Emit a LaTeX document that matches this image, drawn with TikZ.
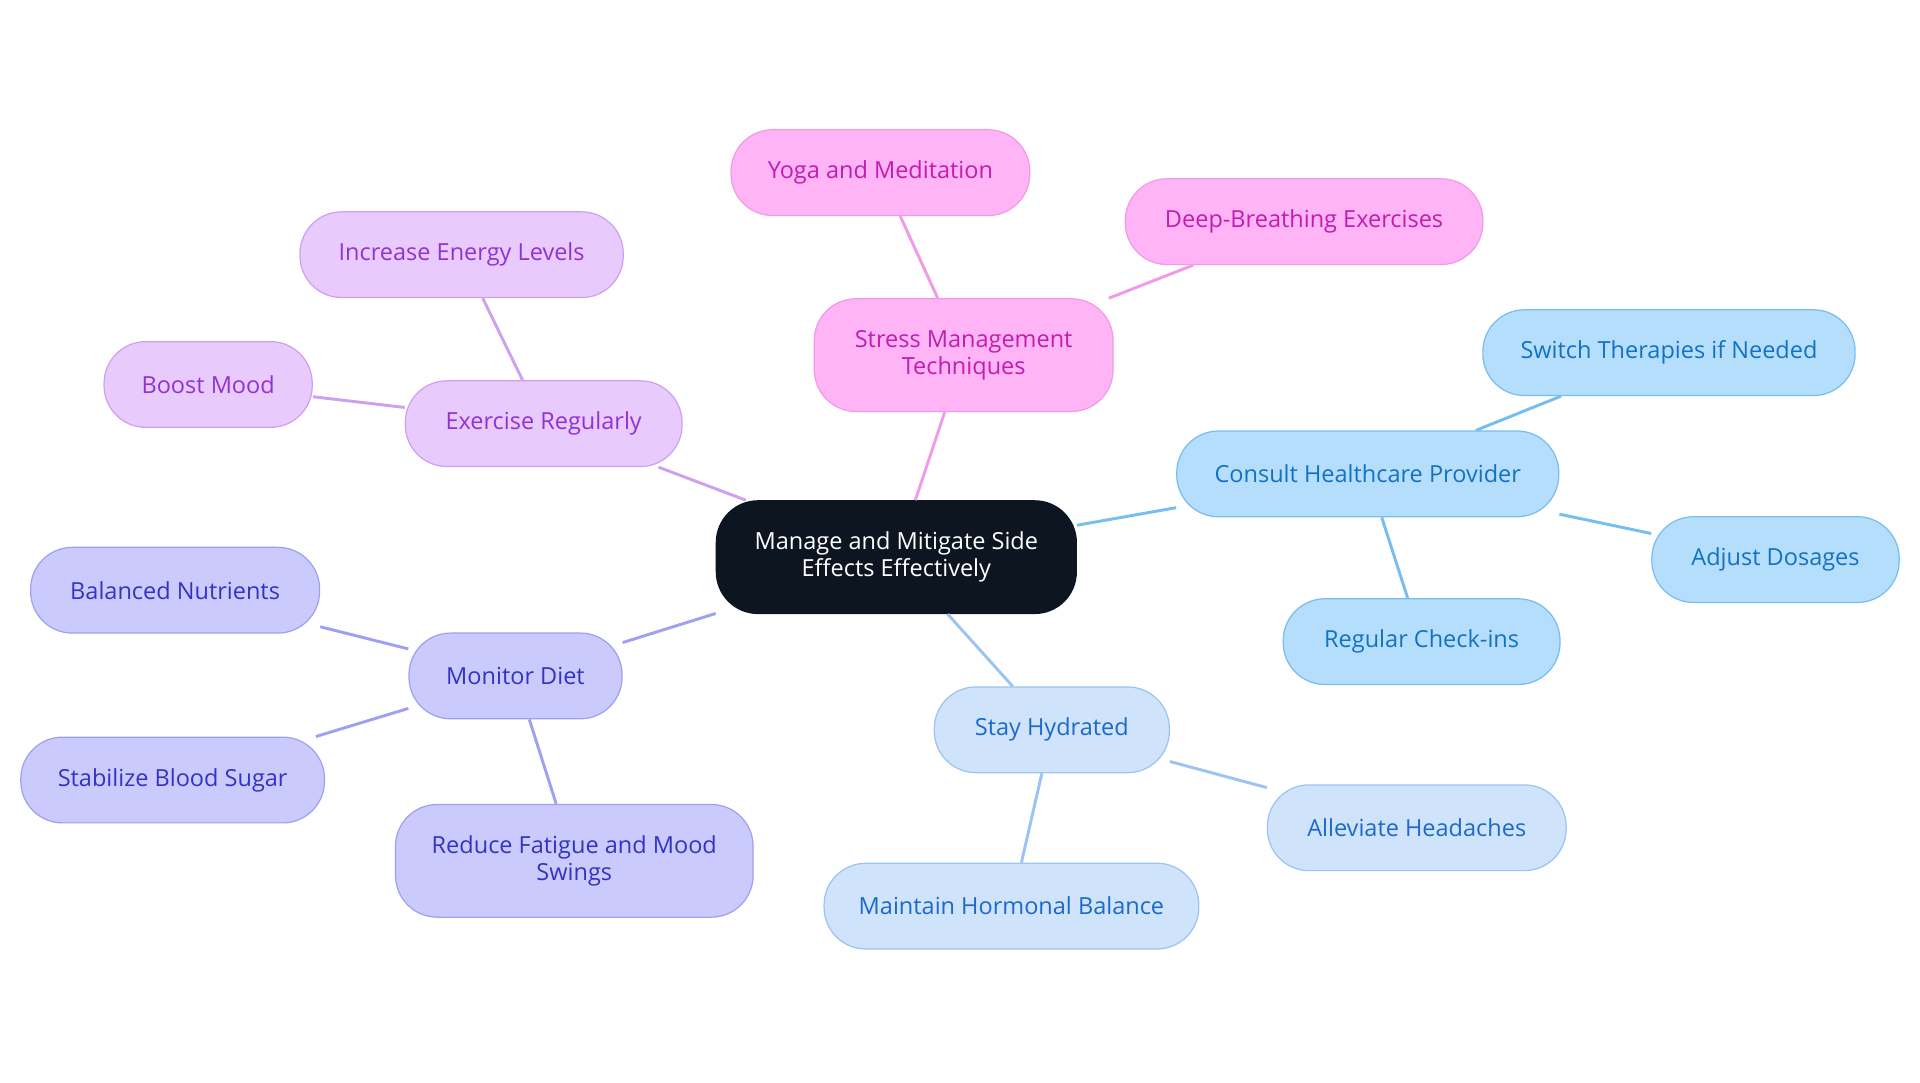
\documentclass[tikz,border=0pt]{standalone}
\usepackage{fontspec}
\setmainfont{Open Sans}
\definecolor{tcol}{HTML}{0D1520}
\definecolor{pink1}{HTML}{FFB5F5}\definecolor{pink2}{HTML}{F09AE8}\definecolor{pink3}{HTML}{C21CB0}
\definecolor{pur1}{HTML}{E8CBFC}\definecolor{pur2}{HTML}{CDA0F2}\definecolor{pur3}{HTML}{9232D6}
\definecolor{vio1}{HTML}{CACAFC}\definecolor{vio2}{HTML}{A0A0F0}\definecolor{vio3}{HTML}{3434C4}
\definecolor{blu1}{HTML}{B5DEFC}\definecolor{blu2}{HTML}{78BDF0}\definecolor{blu3}{HTML}{1472C2}
\definecolor{lbl1}{HTML}{CFE3FB}\definecolor{lbl2}{HTML}{9CC3F2}\definecolor{lbl3}{HTML}{1C6ACA}
\begin{document}
\begin{tikzpicture}[x=0.5pt,y=-0.5pt,
 b/.style={rounded corners=17pt,draw,line width=0.5pt,align=center,inner sep=0pt,font=\fontsize{9.6}{11}\selectfont},
 sz/.style 2 args={minimum width=#1*0.5pt,minimum height=#2*0.5pt},
 pk/.style={b,fill=pink1,draw=pink2,text=pink3},
 pu/.style={b,fill=pur1,draw=pur2,text=pur3},
 vi/.style={b,fill=vio1,draw=vio2,text=vio3},
 bl/.style={b,fill=blu1,draw=blu2,text=blu3},
 lb/.style={b,fill=lbl1,draw=lbl2,text=lbl3},
 e/.style={line width=1.2pt}]
\useasboundingbox (0,0) rectangle (1568,884);
\node[b,fill=tcol,draw=tcol,text=white,sz={294}{92}] (c) at (732,455) {Manage and Mitigate Side\\Effects Effectively};
\node[pk,sz={244}{92}] (s) at (787,290) {Stress Management\\Techniques};
\node[pk,sz={244}{70}] (s1) at (719,141) {Yoga and Meditation};
\node[pk,sz={292}{70}] (s2) at (1065,181) {Deep-Breathing Exercises};
\node[pu,sz={226}{70}] (x) at (444,346) {Exercise Regularly};
\node[pu,sz={264}{70}] (x1) at (377,208) {Increase Energy Levels};
\node[pu,sz={170}{70}] (x2) at (170,314) {Boost Mood};
\node[vi,sz={174}{70}] (d) at (421,552) {Monitor Diet};
\node[vi,sz={236}{70}] (d1) at (143,482) {Balanced Nutrients};
\node[vi,sz={248}{70}] (d2) at (141,637) {Stabilize Blood Sugar};
\node[vi,sz={292}{92}] (d3) at (469,703) {Reduce Fatigue and Mood\\Swings};
\node[bl,sz={312}{70}] (h) at (1117,387) {Consult Healthcare Provider};
\node[bl,sz={304}{70}] (h1) at (1363,288) {Switch Therapies if Needed};
\node[bl,sz={202}{70}] (h2) at (1450,457) {Adjust Dosages};
\node[bl,sz={226}{70}] (h3) at (1161,524) {Regular Check-ins};
\node[lb,sz={192}{70}] (w) at (859,596) {Stay Hydrated};
\node[lb,sz={244}{70}] (w1) at (1157,676) {Alleviate Headaches};
\node[lb,sz={306}{70}] (w2) at (826,740) {Maintain Hormonal Balance};
\draw[e,pink2] (c) -- (s); \draw[e,pink2] (s) -- (s1); \draw[e,pink2] (s) -- (s2);
\draw[e,pur2] (c) -- (x); \draw[e,pur2] (x) -- (x1); \draw[e,pur2] (x) -- (x2);
\draw[e,vio2] (c) -- (d); \draw[e,vio2] (d) -- (d1); \draw[e,vio2] (d) -- (d2); \draw[e,vio2] (d) -- (d3);
\draw[e,blu2] (c) -- (h); \draw[e,blu2] (h) -- (h1); \draw[e,blu2] (h) -- (h2); \draw[e,blu2] (h) -- (h3);
\draw[e,lbl2] (c) -- (w); \draw[e,lbl2] (w) -- (w1); \draw[e,lbl2] (w) -- (w2);
\end{tikzpicture}
\end{document}
